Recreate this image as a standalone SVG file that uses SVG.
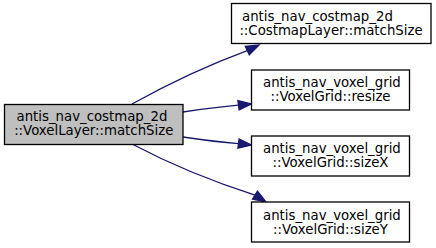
<svg xmlns="http://www.w3.org/2000/svg" width="436" height="248" viewBox="0 0 436 248">
  <style>
    .box { fill: #ffffff; stroke: #000000; stroke-width: 1.3; }
    .root { fill: #bfbfbf; stroke: #000000; stroke-width: 1.3; }
    .lbl { font-family: "DejaVu Sans", "Liberation Sans", sans-serif; font-size: 13.3px; fill: #000000; }
    .edge { fill: none; stroke: #191970; stroke-width: 1.3; }
    .head { fill: #191970; stroke: #191970; stroke-width: 1.3; }
  </style>
  <rect width="436" height="248" fill="#ffffff"/>

  <g id="edges">
    <path class="edge" d="M132,104 C168,84 208,65 247.3,50.6"/>
    <polygon class="head" points="249.3,54.8 259,45 245.3,46.4"/>
    <path class="edge" d="M183,112 C200,109.5 220,106.8 238.5,105.2"/>
    <polygon class="head" points="239.1,109.9 251.5,104 237.9,100.6"/>
    <path class="edge" d="M183,137 C200,139.5 220,142.2 238.5,143.6"/>
    <polygon class="head" points="237.9,148.2 251.5,145 239.1,139"/>
    <path class="edge" d="M133,144.5 C168,163 214,182 255,195.1"/>
    <polygon class="head" points="252.5,199.1 266,202 257.5,191.1"/>
  </g>

  <g id="node_voxel_layer_match_size">
    <rect class="root" x="4.5" y="104.5" width="178.5" height="40"/>
    <text class="lbl" x="16.5" y="121">antis_nav_costmap_2d</text>
    <text class="lbl" x="93.75" y="135" text-anchor="middle">::VoxelLayer::matchSize</text>
  </g>

  <g id="node_costmap_layer_match_size">
    <rect class="box" x="231.5" y="3.5" width="199.5" height="40"/>
    <text class="lbl" x="242" y="21">antis_nav_costmap_2d</text>
    <text class="lbl" x="331" y="35" text-anchor="middle">::CostmapLayer::matchSize</text>
  </g>

  <g id="node_voxel_grid_resize">
    <rect class="box" x="251.5" y="70" width="158" height="40"/>
    <text class="lbl" x="263" y="87">antis_nav_voxel_grid</text>
    <text class="lbl" x="330.5" y="101" text-anchor="middle">::VoxelGrid::resize</text>
  </g>

  <g id="node_voxel_grid_size_x">
    <rect class="box" x="251.5" y="136" width="158" height="40"/>
    <text class="lbl" x="263" y="153">antis_nav_voxel_grid</text>
    <text class="lbl" x="330.5" y="167" text-anchor="middle">::VoxelGrid::sizeX</text>
  </g>

  <g id="node_voxel_grid_size_y">
    <rect class="box" x="251.5" y="202" width="158" height="40"/>
    <text class="lbl" x="263" y="219.5">antis_nav_voxel_grid</text>
    <text class="lbl" x="330.5" y="233.5" text-anchor="middle">::VoxelGrid::sizeY</text>
  </g>
</svg>
